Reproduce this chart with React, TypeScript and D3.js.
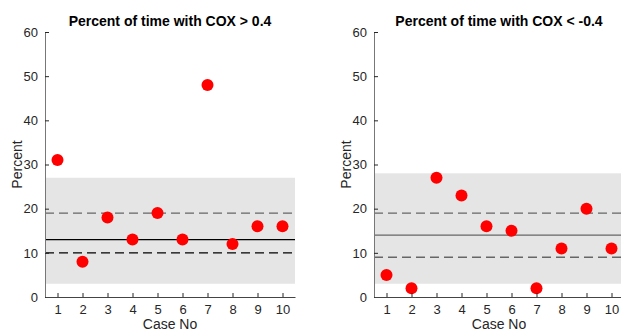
import React, { useEffect, useRef } from "react";
import * as d3 from "d3";

const cases = [1, 2, 3, 4, 5, 6, 7, 8, 9, 10];
const yTicks = [0, 10, 20, 30, 40, 50, 60];

const posValues = [31, 8, 18, 13, 19, 13, 48, 12, 16, 16];
const posBand = [3, 27];
const posMean = 13;
const posDash = [19, 10];

const negValues = [5, 2, 27, 23, 16, 15, 2, 11, 20, 11];
const negBand = [3, 28];
const negMean = 14;
const negDash = [19, 9];

const W = 621;
const H = 331;
const FONT = "Liberation Sans, Arial, sans-serif";

type Panel = {
  title: string;
  values: number[];
  band: number[];
  mean: number;
  dash: number[];
  left: number;
  meanColor: string;
  dashColors: string[];
};

const panels: Panel[] = [
  {
    title: "Percent of time with COX > 0.4",
    values: posValues,
    band: posBand,
    mean: posMean,
    dash: posDash,
    left: 45,
    meanColor: "#000",
    dashColors: ["#666", "#000"],
  },
  {
    title: "Percent of time with COX < -0.4",
    values: negValues,
    band: negBand,
    mean: negMean,
    dash: negDash,
    left: 374,
    meanColor: "#666",
    dashColors: ["#666", "#666"],
  },
];

const App: React.FC = () => {
  const svgRef = useRef<SVGSVGElement | null>(null);

  useEffect(() => {
    const svgEl = svgRef.current;
    if (!svgEl) return;
    const svg = d3.select(svgEl);
    svg.selectAll("*").remove();

    const top = 32;
    const bottom = 297;
    const plotW = 250;

    panels.forEach((p) => {
      const x = d3.scaleLinear().domain([0.5, 10.5]).range([p.left, p.left + plotW]);
      const y = d3.scaleLinear().domain([0, 60]).range([bottom, top]);
      const g = svg.append("g");

      // shaded band
      g.append("rect")
        .attr("x", x(0.5))
        .attr("width", plotW)
        .attr("y", y(p.band[1]))
        .attr("height", y(p.band[0]) - y(p.band[1]))
        .attr("fill", "#e5e5e5");

      // reference lines
      g.append("line")
        .attr("x1", x(0.5))
        .attr("x2", x(10.5))
        .attr("y1", y(p.mean))
        .attr("y2", y(p.mean))
        .attr("stroke", p.meanColor)
        .attr("stroke-width", 1.4);

      p.dash.forEach((v, i) => {
        g.append("line")
          .attr("x1", x(0.5))
          .attr("x2", x(10.5))
          .attr("y1", y(v))
          .attr("y2", y(v))
          .attr("stroke", p.dashColors[i])
          .attr("stroke-width", 1.4)
          .attr("stroke-dasharray", "9,5");
      });

      // points
      g.selectAll("circle")
        .data(p.values)
        .enter()
        .append("circle")
        .attr("cx", (_d, i) => x(cases[i]))
        .attr("cy", (d) => y(d))
        .attr("r", 6)
        .attr("fill", "#ff0000");

      // axes (ticks pointing inward)
      const yAxis = d3
        .axisLeft(y)
        .tickValues(yTicks)
        .tickSize(-4)
        .tickPadding(7)
        .tickSizeOuter(0);
      g.append("g")
        .attr("transform", `translate(${p.left},0)`)
        .call(yAxis)
        .call((a) => a.select(".domain").attr("stroke", "#777"))
        .call((a) => a.selectAll(".tick line").attr("stroke", "#262626"))
        .call((a) =>
          a.selectAll(".tick text").attr("fill", "#262626").style("font-size", "13px").style("font-family", FONT)
        );

      const xAxis = d3
        .axisBottom(x)
        .tickValues(cases)
        .tickFormat(d3.format("d"))
        .tickSize(-4)
        .tickPadding(8)
        .tickSizeOuter(0);
      g.append("g")
        .attr("transform", `translate(0,${bottom})`)
        .call(xAxis)
        .call((a) => a.select(".domain").attr("stroke", "#444"))
        .call((a) => a.selectAll(".tick line").attr("stroke", "#262626"))
        .call((a) =>
          a.selectAll(".tick text").attr("fill", "#262626").style("font-size", "13px").style("font-family", FONT)
        );

      // labels
      g.append("text")
        .attr("x", p.left + plotW / 2)
        .attr("y", 26)
        .attr("text-anchor", "middle")
        .style("font-family", FONT)
        .style("font-weight", "bold")
        .style("font-size", "14px")
        .attr("fill", "#000")
        .text(p.title);

      g.append("text")
        .attr("x", p.left + plotW / 2)
        .attr("y", 329)
        .attr("text-anchor", "middle")
        .style("font-family", FONT)
        .style("font-size", "14px")
        .attr("fill", "#262626")
        .text("Case No");

      g.append("text")
        .attr("transform", `translate(${p.left - 23},${(top + bottom) / 2}) rotate(-90)`)
        .attr("text-anchor", "middle")
        .style("font-family", FONT)
        .style("font-size", "14px")
        .attr("fill", "#262626")
        .text("Percent");
    });
  }, []);

  return (
    <svg
      ref={svgRef}
      width={W}
      height={H}
      style={{ position: "absolute", left: 0, top: 0, background: "#fff" }}
    />
  );
};

export default App;
